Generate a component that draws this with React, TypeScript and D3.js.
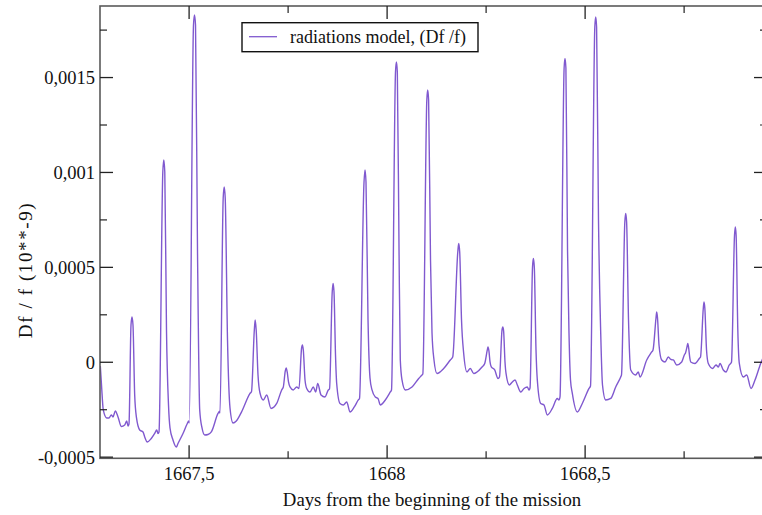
import React from "react";
import * as d3 from "d3";

const days: number[] = [
  1667.2758, 1667.2788, 1667.2833, 1667.2919, 1667.2977, 1667.3035, 1667.3078, 1667.3136, 1667.3205, 1667.3288, 1667.3374, 1667.3424, 1667.3457, 1667.3482, 1667.3533, 1667.3558, 1667.3583, 1667.3626, 1667.3672, 1667.3753, 1667.3836, 1667.3879, 1667.3944, 1667.4045, 1667.4131, 1667.4182, 1667.4215, 1667.4240,
  1667.4336, 1667.4361, 1667.4386, 1667.4429, 1667.4480, 1667.4518, 1667.4593, 1667.4677, 1667.4720, 1667.4846, 1667.4955, 1667.4990,
  1667.5003, 1667.5111, 1667.5136, 1667.5162, 1667.5212, 1667.5268, 1667.5326, 1667.5394, 1667.5477, 1667.5561, 1667.5730, 1667.5763,
  1667.5780, 1667.5861, 1667.5886, 1667.5912, 1667.5970, 1667.6033, 1667.6109, 1667.6192, 1667.6328, 1667.6538, 1667.6576,
  1667.6647, 1667.6669, 1667.6694, 1667.6740, 1667.6790, 1667.6874, 1667.6960, 1667.7068, 1667.7212, 1667.7338, 1667.7379,
  1667.7429, 1667.7452, 1667.7477, 1667.7510, 1667.7548, 1667.7631, 1667.7717, 1667.7775,
  1667.7841, 1667.7861, 1667.7884, 1667.7927, 1667.7970, 1667.8053, 1667.8136, 1667.8197, 1667.8248, 1667.8331, 1667.8432, 1667.8515, 1667.8546,
  1667.8614, 1667.8636, 1667.8659, 1667.8697, 1667.8727, 1667.8811, 1667.8894, 1667.8980, 1667.9063, 1667.9172, 1667.9273, 1667.9303,
  1667.9417, 1667.9442, 1667.9467, 1667.9518, 1667.9568, 1667.9619, 1667.9702, 1667.9770, 1667.9828, 1667.9955, 1668.0081, 1668.0111,
  1668.0212, 1668.0235, 1668.0258, 1668.0301, 1668.0333, 1668.0376, 1668.0460, 1668.0629, 1668.0798, 1668.0881, 1668.0902,
  1668.1003, 1668.1025, 1668.1048, 1668.1096, 1668.1134, 1668.1184, 1668.1260, 1668.1429, 1668.1596, 1668.1657,
  1668.1785, 1668.1808, 1668.1833, 1668.1879, 1668.1934, 1668.2018, 1668.2101, 1668.2187, 1668.2270, 1668.2397, 1668.2465,
  1668.2530, 1668.2548, 1668.2571, 1668.2599, 1668.2631, 1668.2717, 1668.2801, 1668.2838,
  1668.2902, 1668.2922, 1668.2942, 1668.2977, 1668.3003, 1668.3086, 1668.3162, 1668.3230, 1668.3288, 1668.3374, 1668.3457, 1668.3540, 1668.3583, 1668.3609,
  1668.3672, 1668.3694, 1668.3717, 1668.3760, 1668.3793, 1668.3879, 1668.3962, 1668.4045, 1668.4172, 1668.4298, 1668.4341, 1668.4366,
  1668.4470, 1668.4492, 1668.4515, 1668.4556, 1668.4593, 1668.4631, 1668.4677, 1668.4803, 1668.4929, 1668.5099, 1668.5136,
  1668.5245, 1668.5268, 1668.5290, 1668.5338, 1668.5394, 1668.5439, 1668.5520, 1668.5647, 1668.5773, 1668.5899, 1668.5919,
  1668.6003, 1668.6025, 1668.6048, 1668.6096, 1668.6152, 1668.6278, 1668.6343, 1668.6386, 1668.6556, 1668.6682, 1668.6715,
  1668.6790, 1668.6808, 1668.6828, 1668.6866, 1668.6934, 1668.7018, 1668.7101, 1668.7162, 1668.7227, 1668.7313, 1668.7439, 1668.7505, 1668.7535,
  1668.7578, 1668.7593, 1668.7611, 1668.7644, 1668.7667, 1668.7775, 1668.7884, 1668.7914,
  1668.7985, 1668.8003, 1668.8023, 1668.8066, 1668.8111, 1668.8222, 1668.8306, 1668.8364, 1668.8407, 1668.8490, 1668.8558, 1668.8641, 1668.8677, 1668.8697,
  1668.8773, 1668.8793, 1668.8813, 1668.8856, 1668.8894, 1668.8995, 1668.9081, 1668.9189, 1668.9290, 1668.9434, 1668.9492,
];

const dfValues: number[] = [
  -0.195e-4, -1.196e-4, -2.513e-4, -2.935e-4, -2.935e-4, -2.777e-4, -2.882e-4, -2.566e-4, -2.882e-4, -3.382e-4, -3.303e-4, -3.093e-4, -3.356e-4, -3.251e-4, 1.965e-4, 2.387e-4, 1.965e-4, -1.723e-4, -2.935e-4, -3.567e-4, -3.672e-4, -3.936e-4, -4.199e-4, -4.015e-4, -3.751e-4, -3.567e-4, -3.751e-4, -3.672e-4,
  10.026e-4, 10.659e-4, 10.026e-4, 1.702e-4, -2.25e-4, -3.462e-4, -4.094e-4, -4.463e-4, -4.278e-4, -3.751e-4, -3.224e-4, -3.093e-4,
  -3.198e-4, 17.772e-4, 18.298e-4, 17.772e-4, 5.917e-4, -2.513e-4, -3.462e-4, -3.83e-4, -3.804e-4, -3.672e-4, -2.698e-4, -2.592e-4,
  -2.671e-4, 8.657e-4, 9.236e-4, 8.657e-4, 1.175e-4, -2.408e-4, -3.198e-4, -3.093e-4, -2.603e-4, -1.644e-4, -1.538e-4,
  1.702e-4, 2.229e-4, 1.702e-4, -0.669e-4, -1.618e-4, -1.986e-4, -1.723e-4, -2.434e-4, -2.171e-4, -1.459e-4, -1.301e-4,
  -0.458e-4, -0.3e-4, -0.511e-4, -1.038e-4, -1.301e-4, -1.459e-4, -1.301e-4, -1.38e-4,
  0.753e-4, 0.912e-4, 0.648e-4, -0.933e-4, -1.38e-4, -1.565e-4, -1.301e-4, -1.565e-4, -1.117e-4, -1.723e-4, -1.828e-4, -1.459e-4, -1.407e-4,
  3.704e-4, 4.152e-4, 3.704e-4, 0.385e-4, -1.117e-4, -2.171e-4, -2.25e-4, -2.092e-4, -2.619e-4, -2.355e-4, -1.986e-4, -1.907e-4,
  9.5e-4, 10.132e-4, 9.5e-4, 2.229e-4, -0.827e-4, -1.459e-4, -1.828e-4, -1.907e-4, -2.25e-4, -1.986e-4, -1.565e-4, -1.459e-4,
  15.295e-4, 15.822e-4, 15.295e-4, 5.917e-4, 0.121e-4, -0.933e-4, -1.459e-4, -1.301e-4, -0.854e-4, -0.669e-4, -0.616e-4,
  13.82e-4, 14.347e-4, 13.82e-4, 5.39e-4, 1.544e-4, 0.121e-4, -0.59e-4, -0.327e-4, 0.121e-4, 0.279e-4,
  5.811e-4, 6.259e-4, 5.811e-4, 2.229e-4, 0.464e-4, -0.511e-4, -0.327e-4, -0.59e-4, -0.511e-4, -0.248e-4, -0.063e-4,
  0.648e-4, 0.806e-4, 0.595e-4, 0.016e-4, -0.248e-4, -0.406e-4, -0.854e-4, -0.775e-4,
  1.702e-4, 1.86e-4, 1.649e-4, 0.016e-4, -0.59e-4, -1.196e-4, -1.038e-4, -0.933e-4, -1.196e-4, -1.565e-4, -1.38e-4, -1.301e-4, -1.459e-4, -1.354e-4,
  5.021e-4, 5.469e-4, 5.021e-4, 0.648e-4, -0.933e-4, -2.171e-4, -2.25e-4, -2.777e-4, -2.434e-4, -1.907e-4, -1.986e-4, -1.828e-4,
  15.506e-4, 16.006e-4, 15.506e-4, 5.917e-4, 1.544e-4, -0.933e-4, -1.644e-4, -2.619e-4, -2.171e-4, -1.38e-4, -1.249e-4,
  17.666e-4, 18.193e-4, 17.666e-4, 7.497e-4, 1.544e-4, -1.196e-4, -1.986e-4, -1.907e-4, -1.301e-4, -0.775e-4, -0.669e-4,
  7.392e-4, 7.84e-4, 7.392e-4, 2.229e-4, -0.406e-4, -0.669e-4, -0.511e-4, -0.775e-4, 0.121e-4, 0.543e-4, 0.648e-4,
  2.334e-4, 2.65e-4, 2.334e-4, 0.912e-4, 0.121e-4, 0.016e-4, 0.279e-4, 0.148e-4, 0.121e-4, -0.142e-4, 0.016e-4, 0.385e-4, 0.49e-4,
  0.859e-4, 0.991e-4, 0.806e-4, 0.227e-4, 0.016e-4, -0.063e-4, 0.2e-4, 0.279e-4,
  2.861e-4, 3.177e-4, 2.861e-4, 0.648e-4, -0.063e-4, -0.327e-4, -0.142e-4, -0.248e-4, -0.063e-4, -0.406e-4, -0.511e-4, -0.142e-4, -0.063e-4, 0.016e-4,
  6.707e-4, 7.129e-4, 6.707e-4, 1.702e-4, -0.063e-4, -0.775e-4, -0.669e-4, -1.38e-4, -0.933e-4, -0.063e-4, 0.227e-4,
];

const xMajorTicks = [1667.5, 1668, 1668.5];
const xMajorLabels = ["1667,5", "1668", "1668,5"];
const xMinorTicks = [1667.25, 1667.75, 1668.25, 1668.75];
const yMajorTicks = [-0.0005, 0, 0.0005, 0.001, 0.0015];
const yMajorLabels = ["-0,0005", "0", "0,0005", "0,001", "0,0015"];
const yMinorTicks = [-0.00025, 0.00025, 0.00075, 0.00125, 0.00175];

const xDomain = [1667.275, 1668.9593];
const yDomain = [-0.000506, 0.001877];

const seriesName = "radiations model, (Df /f)";
const xTitle = "Days from the beginning of the mission";
const yTitle = "Df / f (10**-9)";

const W = 762;
const H = 515;
const L = 100;
const R = 767;
const T = 6;
const B = 458.3;
const FONT = "'Liberation Serif', 'Times New Roman', serif";
const LINE_COLOR = "#8059cf";

export default function App() {
  const x = d3.scaleLinear().domain(xDomain).range([L, R]);
  const y = d3.scaleLinear().domain(yDomain).range([B, T]);
  const n = Math.min(days.length, dfValues.length);
  const pts: [number, number][] = [];
  for (let i = 0; i < n; i++) pts.push([days[i], dfValues[i]]);
  const line = d3
    .line<[number, number]>()
    .x((d) => x(d[0]))
    .y((d) => y(d[1]))
    .curve(d3.curveMonotoneX);
  const MAJ = 13;
  const MIN = 7;
  const tickColor = "#222";
  return (
    <div style={{ position: "absolute", left: 0, top: 0 }}>
      <svg width={W} height={H} style={{ display: "block", background: "#fff" }}>
        <defs>
          <clipPath id="plotclip">
            <rect x={L} y={T} width={R - L} height={B - T} />
          </clipPath>
        </defs>
        <rect x={0} y={0} width={W} height={H} fill="#fff" />
        <path d={line(pts) || ""} fill="none" stroke={LINE_COLOR} strokeWidth={1.4} clipPath="url(#plotclip)" />
        <rect x={L} y={T} width={R - L} height={B - T} fill="none" stroke="#5a5a5a" strokeWidth={1.6} />
        {xMajorTicks.map((t, i) => (
          <g key={"xM" + i}>
            <line x1={x(t)} x2={x(t)} y1={B} y2={B - MAJ} stroke={tickColor} strokeWidth={1.3} />
            <line x1={x(t)} x2={x(t)} y1={T} y2={T + MAJ} stroke={tickColor} strokeWidth={1.3} />
            <text x={x(t)} y={480} textAnchor="middle" fontFamily={FONT} fontSize={18.5} fill="#111">
              {xMajorLabels[i]}
            </text>
          </g>
        ))}
        {xMinorTicks.map((t, i) =>
          x(t) > L + 1 && x(t) < R - 1 ? (
            <g key={"xm" + i}>
              <line x1={x(t)} x2={x(t)} y1={B} y2={B - MIN} stroke={tickColor} strokeWidth={1.2} />
              <line x1={x(t)} x2={x(t)} y1={T} y2={T + MIN} stroke={tickColor} strokeWidth={1.2} />
            </g>
          ) : null
        )}
        {yMajorTicks.map((t, i) => (
          <g key={"yM" + i}>
            <line x1={L} x2={L + MAJ} y1={y(t)} y2={y(t)} stroke={tickColor} strokeWidth={1.3} />
            <line x1={R} x2={R - MAJ} y1={y(t)} y2={y(t)} stroke={tickColor} strokeWidth={1.3} />
            <text x={95} y={y(t)} dy="0.35em" textAnchor="end" fontFamily={FONT} fontSize={18.5} fill="#111">
              {yMajorLabels[i]}
            </text>
          </g>
        ))}
        {yMinorTicks.map((t, i) => (
          <g key={"ym" + i}>
            <line x1={L} x2={L + MIN} y1={y(t)} y2={y(t)} stroke={tickColor} strokeWidth={1.2} />
            <line x1={R} x2={R - MIN} y1={y(t)} y2={y(t)} stroke={tickColor} strokeWidth={1.2} />
          </g>
        ))}
        <text x={432} y={506} textAnchor="middle" fontFamily={FONT} fontSize={18.8} fill="#111">
          {xTitle}
        </text>
        <text
          transform={`translate(32, 270) rotate(-90)`}
          textAnchor="middle"
          fontFamily={FONT}
          fontSize={19}
          letterSpacing={1.6}
          fill="#111"
        >
          {yTitle}
        </text>
        <rect x={242} y={22.7} width={236} height={29} fill="#fff" stroke="#111" strokeWidth={1.4} />
        <line x1={249} x2={277} y1={36.7} y2={36.7} stroke={LINE_COLOR} strokeWidth={1.3} />
        <text x={290} y={43} fontFamily={FONT} fontSize={18} fill="#111">
          {seriesName}
        </text>
      </svg>
    </div>
  );
}
